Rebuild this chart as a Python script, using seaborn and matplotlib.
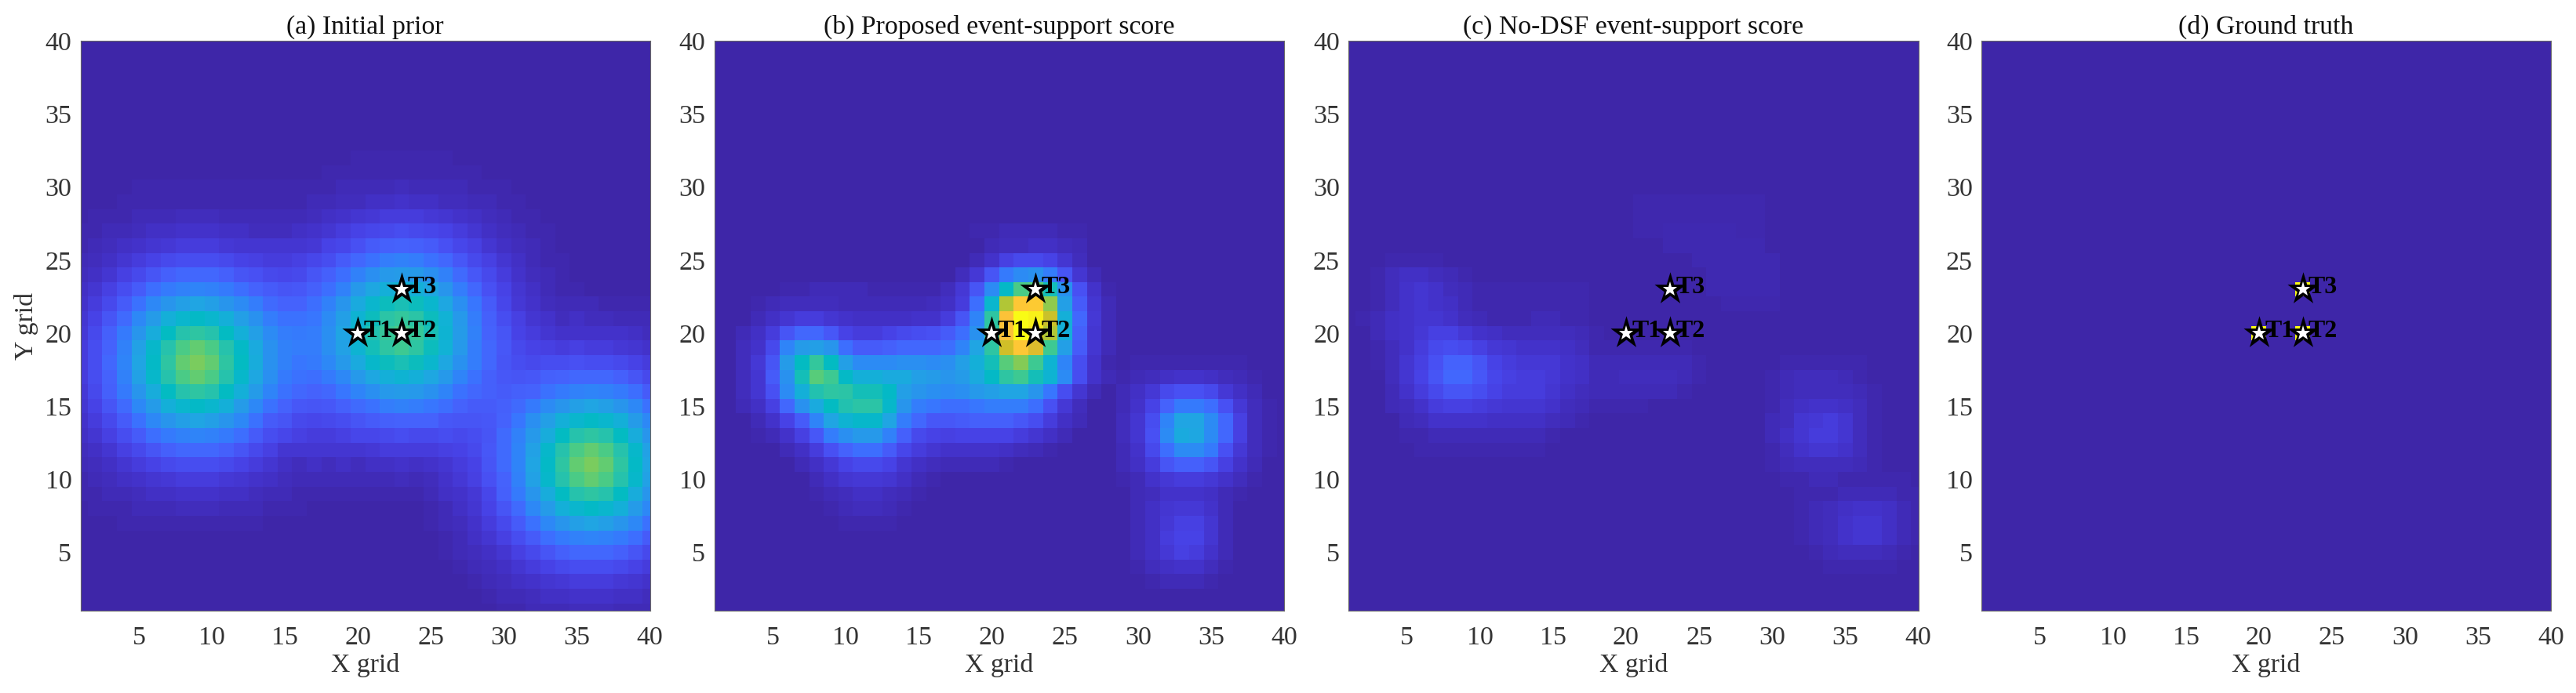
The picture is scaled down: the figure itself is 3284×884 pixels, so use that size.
import numpy as np
import seaborn as sns
import matplotlib.pyplot as plt
from matplotlib.colors import LinearSegmentedColormap
from matplotlib.markers import MarkerStyle

# values in percent, one list per grid row, y=40 first, trailing zeros left out
prior_rows = [[]] * 8 + [
    [0]*19 + [1]*7,
    [0]*17 + [1]*11,
    [0,0,0,0,1,1,1,1,1,1,1,1,1,1,1,1,1,1,2,2,2,2,3,2,2,2,2,1,1,1],
    [0,0,0,1,1,1,1,1,1,1,1,1,1,1,1,1,2,2,3,3,4,4,5,4,4,3,3,2,2,1,1],
    [0,1,1,1,2,2,2,3,3,3,2,2,2,2,2,2,3,4,5,6,7,8,8,8,7,6,5,4,3,2,1,1],
    [1,1,2,2,3,4,4,5,5,5,4,4,3,3,3,4,5,6,8,10,11,12,13,12,11,10,8,6,4,3,2,1,1],
    [1,2,3,4,5,6,7,8,8,8,7,6,6,6,6,6,7,10,11,14,17,18,19,18,17,14,11,9,6,4,3,2,1],
    [2,3,4,6,8,10,12,13,13,13,12,10,9,8,8,9,11,13,17,20,23,26,27,26,23,20,16,12,9,6,4,2,1,1],
    [3,4,6,9,12,15,18,20,20,20,18,15,14,12,11,12,15,18,22,27,31,34,35,34,31,27,21,16,12,8,5,3,2,1],
    [4,6,9,13,17,22,25,27,28,27,25,22,19,17,15,16,18,22,27,34,39,42,44,42,39,33,26,20,14,10,6,4,2,1,1],
    [5,8,12,17,23,29,33,36,38,36,33,30,26,21,19,19,22,27,33,40,45,49,51,49,45,39,31,24,17,11,7,5,3,2,2,2,1,1,1,1],
    [6,10,15,21,29,35,42,45,47,45,42,36,32,26,23,23,24,30,36,44,49,54,56,54,49,43,34,26,18,13,9,6,5,3,4,3,3,2,2,2],
    [7,12,18,25,33,41,48,53,55,53,48,42,36,30,26,25,26,31,38,45,52,57,60,57,51,44,35,27,19,15,10,8,6,5,5,5,5,5,4,3],
    [8,13,19,27,37,46,53,60,63,60,53,47,40,32,27,26,26,31,37,44,50,55,58,55,49,43,34,26,20,16,12,10,9,8,9,8,8,7,6,5],
    [8,13,20,28,38,47,55,63,66,63,55,48,41,32,27,24,25,29,34,40,46,49,51,49,45,39,32,26,20,15,13,12,13,13,14,13,13,12,10,8],
    [8,13,19,27,37,46,53,60,63,60,53,46,39,31,25,23,22,25,29,34,39,42,44,42,39,34,28,23,18,16,15,16,18,19,20,20,20,18,15,12],
    [7,12,18,25,33,41,48,53,55,53,48,42,35,28,23,20,19,20,24,28,31,34,35,34,32,28,23,20,18,17,18,19,23,25,27,28,27,25,22,17],
    [6,10,15,21,29,35,42,45,47,45,42,35,29,23,19,16,15,16,18,21,23,26,27,26,24,22,19,17,17,18,21,25,30,33,36,38,36,33,29,23],
    [5,8,12,17,23,29,33,36,38,36,33,29,23,17,15,12,11,12,13,15,17,18,19,19,19,16,15,15,16,19,24,31,36,42,45,47,45,42,35,29],
    [4,6,9,13,17,22,25,27,28,27,25,22,17,13,11,9,8,8,9,11,11,12,13,12,12,13,12,13,15,21,27,34,41,48,53,55,53,48,41,33],
    [3,4,6,9,12,15,18,20,20,20,18,15,12,9,6,6,6,6,6,6,7,8,8,8,8,9,10,12,16,21,28,37,46,53,60,63,60,53,46,37],
    [2,3,4,6,8,10,12,13,13,13,12,10,8,6,4,3,4,3,4,3,4,4,5,4,5,6,8,10,15,21,28,38,47,55,63,66,63,55,47,38],
    [1,2,3,4,5,6,7,8,8,8,7,6,5,4,3,2,2,2,2,2,2,2,3,2,3,5,7,9,14,19,27,37,46,53,60,63,60,53,46,37],
    [1,1,2,2,3,4,4,5,5,5,4,4,3,2,2,1,1,1,1,1,1,1,1,1,2,4,5,7,11,18,25,33,41,48,53,55,53,48,41,33],
    [0,1,1,1,2,2,2,3,3,3,2,2,2,1,1,1,0,0,0,0,0,0,0,0,1,2,4,6,10,15,21,29,35,42,45,47,45,42,35,29],
    [0,0,0,1,1,1,1,1,1,1,1,1,1,0,0,0,0,0,0,0,0,0,0,0,1,2,3,5,8,12,17,23,29,33,36,38,36,33,29,23],
    [0]*25 + [1,2,4,6,9,13,17,22,25,27,28,27,25,22,17],
    [0]*25 + [1,2,3,4,6,9,12,15,18,20,20,20,18,15,12],
    [0]*26 + [1,2,3,4,6,8,10,12,13,13,13,12,10,8],
    [0]*27 + [1,2,3,4,5,6,7,8,8,8,7,6,5],
    [0]*28 + [1,2,2,3,4,4,5,5,5,4,4,3],
    [0]*29 + [1,1,2,2,2,3,3,3,2,2,2],
]

proposed_rows = [[]] * 13 + [
    [0]*18 + [1,1,2,2,2,2,1,1],
    [0]*19 + [2,3,3,4,4,3,2],
    [0]*18 + [2,5,9,12,12,10,6,3],
    [0]*17 + [3,7,15,25,30,32,26,15,6,2],
    [0]*5 + [1,1,2,2,2,2,1,1,1,1,1,3,7,15,30,47,60,62,50,32,14,5,1],
    [0,0,0,1,2,3,3,3,3,2,2,2,2,2,2,3,4,8,22,45,72,87,88,68,36,17,6,2],
    [0,0,0,2,4,6,8,8,6,5,4,4,4,4,5,5,8,15,28,55,85,100,98,75,42,20,7,2],
    [0,0,2,4,8,15,20,20,16,10,8,8,10,12,13,14,17,22,32,55,85,100,95,72,42,18,6,2],
    [0,0,3,5,12,28,35,36,33,22,17,17,18,20,20,20,22,28,38,55,76,87,78,58,36,17,6,2],
    [0,0,3,7,15,35,48,56,48,36,30,30,30,31,31,30,31,36,42,50,62,67,58,44,28,13,5,1,0,1,1,1,1,1,1,1,1],
    [0,0,3,6,17,32,50,62,58,47,42,42,40,40,36,35,33,35,40,47,55,58,50,44,30,13,5,2,1,2,3,4,5,5,4,3,2,1],
    [0,0,3,6,14,30,42,52,55,54,50,50,47,36,33,31,30,31,34,36,38,38,33,24,13,6,2,0,2,4,7,12,14,14,12,7,4,2],
    [0,0,2,4,9,20,32,40,48,52,54,54,46,33,26,24,22,22,24,26,26,26,22,14,7,3,0,0,2,5,10,19,25,25,22,14,7,3,1],
    [0,0,0,2,5,10,17,28,38,44,46,46,38,26,20,16,16,17,18,18,18,16,13,8,4,2,0,0,3,6,13,28,38,38,30,20,9,3,1],
    [0,0,0,1,2,5,9,16,26,31,34,34,27,18,12,10,9,10,10,10,10,8,6,4,2,0,0,0,3,6,14,30,40,39,30,20,9,3,1],
    [0,0,0,0,0,2,4,8,14,19,22,22,17,11,8,6,5,5,5,5,4,3,2,1,0,0,0,0,2,5,12,22,30,30,25,14,7,3,1],
    [0,0,0,0,0,0,2,4,7,10,12,12,10,6,4,3,2,2,2,2,1,0,0,0,0,0,0,0,2,4,8,15,18,18,15,9,5,2],
    [0]*7 + [2,4,6,7,7,6,4,2,1] + [0]*12 + [1,2,5,7,8,8,7,5,3,1],
    [0]*7 + [1,2,3,4,4,3,2,1] + [0]*14 + [2,3,5,5,5,4,2,1],
    [0]*8 + [1,2,3,3,2,1] + [0]*15 + [2,4,6,7,7,5,2],
    [0]*9 + [1,1,1,1] + [0]*16 + [2,4,7,9,9,6,2],
    [0]*29 + [2,4,8,10,10,6,2],
    [0]*29 + [2,4,7,9,8,5,2],
    [0]*29 + [1,3,4,5,5,3,1],
    [0]*30 + [1,2,2,2,1],
    [],
    [],
]

no_dsf_rows = [[]] * 11 + [
    [0]*20 + [1]*9,
    [0]*20 + [1]*9,
    [0]*20 + [1,1,1.5,1.5,1.5,1.5,1.5,1,1],
    [0]*22 + [1.5]*7,
    [0]*3 + [1]*4 + [0]*17 + [1.5]*6,
    [0,0,1,3,4,4,3,2,1] + [0]*16 + [1.5]*5,
    [0,0,1,3,5,6,5,3,2] + [1]*8 + [0]*8 + [1.5]*5,
    [0,0,1,3,5,6,5,4,2,1] + [1]*7 + [0]*9 + [1]*4,
    [0,1,2,4,5,6,6,5,3,2,1,1,1,2,2,1,1],
    [0,0,2,4,5,7,9,9,7,5,4,3,3,3,3,3,2,1],
    [0,0,1,3,5,8,12,13,12,9,7,6,5,5,5,4,3,1,1,1,1,1,1,1],
    [0,0,1,3,6,9,14,19,19,15,10,8,7,7,7,5,4,2,2,2,2,2,2,2,1] + [0]*5 + [1]*6,
    [0,0,0,3,6,10,15,20,20,16,11,9,8,8,7,5,4,2,2,3,3,3,3,2,1] + [0]*4 + [1,2,3,3,3,2,1],
    [0,0,0,2,5,8,12,15,15,13,10,8,8,8,6,4,3,2,2,2,2,2,2,1] + [0]*5 + [1,2,3,3,3,3,2,1],
    [0,0,0,2,3,5,8,9,9,8,7,6,6,6,5,3,2,1,1,1,1] + [0]*8 + [1,3,4,5,5,4,3,1],
    [0,0,0,0,2,3,5,5,5,5,4,4,4,4,3,2,1] + [0]*12 + [2,3,6,7,8,6,3,1],
    [0,0,0,0,1,1,2,2,2,2,2,2,2,2,1] + [0]*14 + [2,4,6,8,8,6,3,1],
    [0]*5 + [1]*9 + [0]*15 + [1,3,5,6,6,5,3,1],
    [0]*29 + [1,2,3,3,3,3,2,1],
    [0]*30 + [1,1,2,2,1,1,1,1,1],
    [0]*31 + [1,1,1,2,2,2,2,1,1],
    [0]*31 + [1,2,3,4,5,5,4,2,1],
    [0]*31 + [1,2,3,5,6,6,4,2,1],
    [0]*31 + [1,2,3,5,6,6,4,2,1],
    [0]*32 + [1,2,3,3,3,2,1],
    [0]*33 + [1,1,1,1,1],
    [],
    [],
    [],
]

target_x = [20, 23, 23]
target_y = [20, 20, 23]
target_names = ['T1', 'T2', 'T3']

titles = ['(a) Initial prior', '(b) Proposed event-support score',
          '(c) No-DSF event-support score', '(d) Ground truth']
tick_values = [5, 10, 15, 20, 25, 30, 35, 40]

# parula, every third entry of the 64 colour table
parula_colors = [
    (0.2422, 0.1504, 0.6603), (0.2647, 0.1978, 0.7952), (0.2783, 0.2559, 0.8991),
    (0.2810, 0.3228, 0.9579), (0.2699, 0.3892, 0.9906), (0.2206, 0.4603, 0.9973),
    (0.1786, 0.5289, 0.9682), (0.1540, 0.5902, 0.9218), (0.1248, 0.6459, 0.8883),
    (0.0689, 0.6948, 0.8394), (0.0067, 0.7312, 0.7660), (0.1408, 0.7584, 0.6842),
    (0.2161, 0.7843, 0.5923), (0.3406, 0.8008, 0.4789), (0.5044, 0.7993, 0.3480),
    (0.6720, 0.7793, 0.2227), (0.8203, 0.7498, 0.1535), (0.9393, 0.7288, 0.2100),
    (0.9970, 0.7659, 0.2199), (0.9892, 0.8136, 0.1760), (0.9626, 0.8924, 0.1229),
    (0.9769, 0.9839, 0.0805),
]
parula = LinearSegmentedColormap.from_list('parula', parula_colors, N=256)


def to_grid(rows):
    return np.array([r + [0] * (40 - len(r)) for r in rows]) / 100


truth = np.zeros((40, 40))
for tx, ty in zip(target_x, target_y):
    truth[40 - ty, tx - 1] = 1

grids = [to_grid(prior_rows), to_grid(proposed_rows), to_grid(no_dsf_rows), truth]

sns.set_style('white')
plt.rcParams['font.family'] = ['Liberation Serif', 'DejaVu Serif']

W, H = 3284, 884
fig = plt.figure(figsize=(W / 100, H / 100), dpi=100)
panel_edges = [(102.5, 828.5), (910.5, 1637), (1719, 2445.5), (2526, 3252)]
top, bottom = 52.4, 779
star = MarkerStyle('*', joinstyle='miter')

for i in range(4):
    left, right = panel_edges[i]
    ax = fig.add_axes([left / W, 1 - bottom / H, (right - left) / W, (bottom - top) / H])
    sns.heatmap(grids[i], ax=ax, cmap=parula, vmin=0, vmax=1, cbar=False,
                xticklabels=False, yticklabels=False)
    # heatmap cells sit at n+0.5, axis runs from the centre of cell 1 to cell 40
    ax.set_xlim(0.5, 39.5)
    ax.set_ylim(39.5, 0.5)
    ax.set_xticks([v - 0.5 for v in tick_values])
    ax.set_xticklabels(tick_values)
    ax.set_yticks([40 - v + 0.5 for v in tick_values])
    ax.set_yticklabels(tick_values)
    ax.tick_params(length=0, labelsize=24.5, labelcolor='#333333')
    ax.tick_params(axis='x', pad=14)
    ax.tick_params(axis='y', pad=8)
    for s in ax.spines.values():
        s.set_visible(True)
        s.set_color('#666666')
        s.set_linewidth(0.8)
    ax.set_title(titles[i], fontsize=24.3, color='#111111', pad=7)
    ax.set_xlabel('X grid', fontsize=24.3, color='#333333', labelpad=3)
    if i == 0:
        ax.set_ylabel('Y grid', fontsize=24.3, color='#333333', labelpad=6)

    for tx, ty, name in zip(target_x, target_y, target_names):
        ax.text(tx - 0.5 + 0.4, 40 - ty + 0.5 - 0.15, name, fontsize=23, fontweight='bold',
                color='black', va='center', ha='left', zorder=4)
    # black star with a thick mitred edge, smaller white one on top
    star_x = [v - 0.5 for v in target_x]
    star_y = [40 - v + 0.5 for v in target_y]
    ax.plot(star_x, star_y, linestyle='none', marker=star, markersize=20,
            markerfacecolor='black', markeredgecolor='black', markeredgewidth=3.4, zorder=5)
    ax.plot(star_x, star_y, linestyle='none', marker='*', markersize=14,
            markerfacecolor='white', markeredgewidth=0, zorder=6)

fig.savefig('out.png', dpi=100)
